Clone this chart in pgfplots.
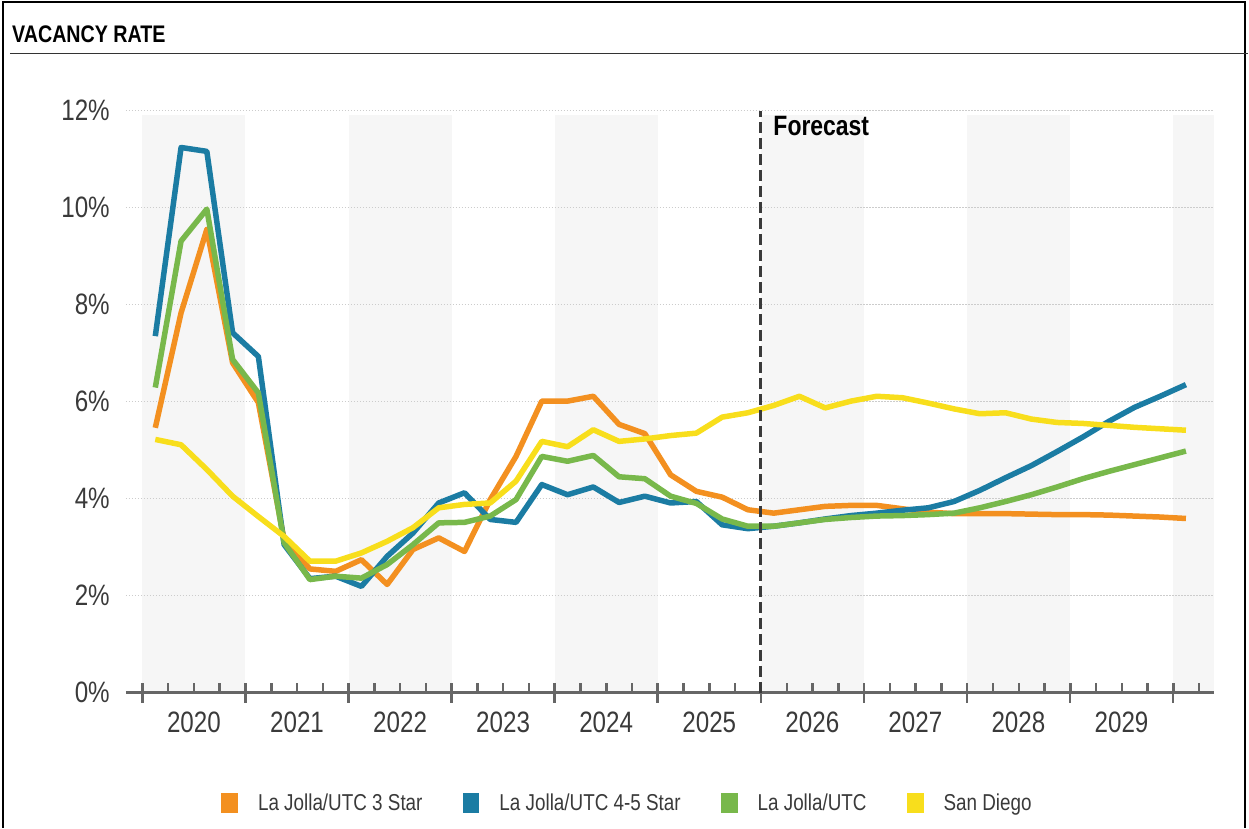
\documentclass[border=0pt]{standalone}
\usepackage{pgfplots}
\usepackage{pgfplotstable}
\pgfplotsset{compat=1.18}
\usepackage{fontspec}
\setmainfont[FakeStretch=0.82]{Liberation Sans}
\definecolor{cOrange}{HTML}{F39020}
\definecolor{cBlue}{HTML}{1B7CA3}
\definecolor{cGreen}{HTML}{78B84B}
\definecolor{cYellow}{HTML}{F8DE1C}
\definecolor{band}{HTML}{F6F6F6}
\definecolor{axisgray}{HTML}{666666}
\definecolor{txt}{HTML}{3A3A3A}

\pgfplotstableread{
x        o     b     g     s
2020.125 5.46  7.35  6.29  5.22
2020.375 7.83  11.24 9.31  5.11
2020.625 9.55  11.16 9.97  4.60
2020.875 6.80  7.42  6.87  4.05
2021.125 5.98  6.93  6.18  3.63
2021.375 3.15  3.05  3.09  3.22
2021.625 2.55  2.35  2.33  2.71
2021.875 2.50  2.40  2.40  2.71
2022.125 2.74  2.19  2.36  2.88
2022.375 2.23  2.81  2.64  3.12
2022.625 2.95  3.29  3.05  3.40
2022.875 3.19  3.91  3.50  3.81
2023.125 2.91  4.12  3.51  3.88
2023.375 3.98  3.57  3.64  3.91
2023.625 4.87  3.51  3.98  4.36
2023.875 6.01  4.29  4.87  5.18
2024.125 6.01  4.08  4.77  5.07
2024.375 6.11  4.24  4.89  5.42
2024.625 5.53  3.92  4.45  5.18
2024.875 5.34  4.05  4.41  5.23
2025.125 4.49  3.91  4.05  5.30
2025.375 4.15  3.94  3.90  5.35
2025.625 4.03  3.46  3.58  5.68
2025.875 3.77  3.38  3.43  5.77
2026.125 3.70  3.43  3.43  5.92
2026.375 3.77  3.50  3.50  6.11
2026.625 3.84  3.58  3.57  5.87
2026.875 3.86  3.65  3.61  6.01
2027.125 3.86  3.70  3.64  6.11
2027.375 3.79  3.76  3.65  6.08
2027.625 3.72  3.81  3.67  5.97
2027.875 3.69  3.94  3.70  5.85
2028.125 3.69  4.17  3.81  5.75
2028.375 3.69  4.43  3.94  5.77
2028.625 3.68  4.68  4.08  5.64
2028.875 3.67  4.97  4.24  5.57
2029.125 3.67  5.27  4.41  5.55
2029.375 3.66  5.59  4.56  5.51
2029.625 3.64  5.88  4.70  5.47
2029.875 3.62  6.11  4.84  5.44
2030.125 3.59  6.35  4.98  5.41
}\vacancy

\begin{document}
\begin{tikzpicture}
\path (0,0) rectangle (1249pt,-828pt);
\draw[line width=2pt, black] (3pt,-828pt) -- (3pt,-2pt) -- (1246pt,-2pt) -- (1246pt,-828pt);
\node[anchor=base west, inner sep=0pt, font=\fontsize{24}{24}\selectfont\bfseries] at (12pt,-42.5pt) {VACANCY RATE};
\draw[line width=1.5pt, black!80] (10pt,-53.3pt) -- (1249pt,-53.3pt);
\begin{axis}[
  set layers,
  at={(126pt,-693pt)}, anchor=south west,
  scale only axis, width=1089pt, height=582.3pt,
  xmin=2019.84, xmax=2030.40, ymin=0, ymax=12,
  clip=false,
  axis lines*=left,
  y axis line style={draw=none},
  x axis line style={axisgray, line width=3pt},
  xtick={2020,2021,...,2030}, xticklabels={},
  minor xtick={2020.25,2020.5,...,2030.25},
  tick align=center,
  major tick length=20pt, minor tick length=10pt,
  tick style={axisgray, line width=2.5pt},
  minor tick style={yshift=5pt},
  extra x ticks={2020.5,2021.5,2022.5,2023.5,2024.5,2025.5,2026.5,2027.5,2028.5,2029.5},
  extra x tick labels={2020,2021,2022,2023,2024,2025,2026,2027,2028,2029},
  extra x tick style={major tick length=0pt, tick style={draw=none}, grid=none},
  xticklabel style={font=\fontsize{29.5}{29.5}\selectfont, text=txt, inner sep=0pt, anchor=north, yshift=-18.7pt},
  ytick={0,2,4,6,8,10,12},
  yticklabels={0\%,2\%,4\%,6\%,8\%,10\%,12\%},
  ytick style={draw=none},
  yticklabel style={font=\fontsize{29.5}{29.5}\selectfont, text=txt, inner sep=0pt, anchor=east, xshift=-6pt},
  ymajorgrids,
  major grid style={line width=1.5pt, color=black!20, dash pattern=on 1.5pt off 1.5pt},
  legend columns=4,
  legend style={at={(0.4598,-0.189)}, anchor=center, draw=none, fill=none,
    font=\fontsize{23}{23}\selectfont, text=txt,
    nodes={inner sep=0pt},
    /tikz/every odd column/.append style={column sep=20pt},
    /tikz/every even column/.append style={column sep=40pt}},
  legend image code/.code={\fill[#1, draw=none] (0pt,-10pt) rectangle (17pt,10pt);},
]
\begin{pgfonlayer}{axis background}
\fill[band] (axis cs:2020,0) rectangle (axis cs:2021,11.9);
\fill[band] (axis cs:2022,0) rectangle (axis cs:2023,11.9);
\fill[band] (axis cs:2024,0) rectangle (axis cs:2025,11.9);
\fill[band] (axis cs:2026,0) rectangle (axis cs:2027,11.9);
\fill[band] (axis cs:2028,0) rectangle (axis cs:2029,11.9);
\fill[band] (axis cs:2030,0) rectangle (axis cs:2030.40,11.9);
\end{pgfonlayer}
\addplot[cOrange, line width=5.5pt, line join=round, no markers] table[x=x, y=o] {\vacancy};
\addlegendentry{La Jolla/UTC 3 Star}
\addplot[cBlue, line width=5.5pt, line join=round, no markers] table[x=x, y=b] {\vacancy};
\addlegendentry{La Jolla/UTC 4-5 Star}
\addplot[cGreen, line width=5.5pt, line join=round, no markers] table[x=x, y=g] {\vacancy};
\addlegendentry{La Jolla/UTC}
\addplot[cYellow, line width=5.5pt, line join=round, no markers] table[x=x, y=s] {\vacancy};
\addlegendentry{San Diego}
\draw[color=txt, line width=3pt, dash pattern=on 11pt off 5pt] (axis cs:2026,0) -- (axis cs:2026,12);
\node[anchor=base west, inner sep=0pt, xshift=12.5pt, yshift=-25.3pt, font=\fontsize{28}{28}\selectfont\bfseries] at (axis cs:2026,12) {Forecast};
\end{axis}
\end{tikzpicture}
\end{document}
